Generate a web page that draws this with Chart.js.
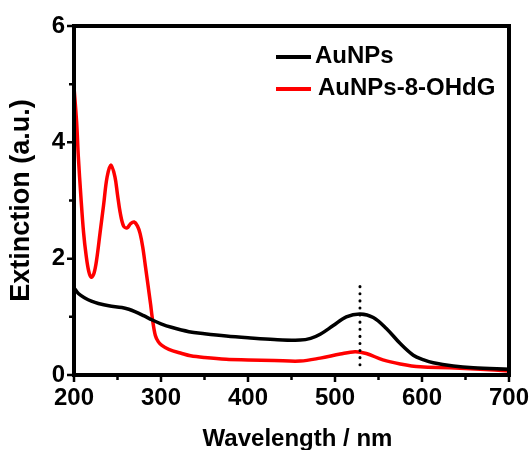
<!DOCTYPE html>
<html>
<head>
<meta charset="utf-8">
<script src="https://cdn.jsdelivr.net/npm/chart.js@4.4.0/dist/chart.umd.js"></script>
<style>
    html, body { margin: 0; padding: 0; background: #fff; }
    #wrap { width: 531px; height: 450px; position: relative; }
</style>
</head>
<body>
<div id="wrap"><canvas id="uv"></canvas></div>
<script>
// UV-vis extinction spectra
const waveAu = [200, 205, 213, 220, 228, 240, 255, 263, 270, 280, 290, 300, 312, 332, 350, 375, 400, 430, 460,
                472, 483, 498, 513, 529, 544, 559, 575, 590, 602, 613, 636, 659, 700];
const extAu = [1.50, 1.40, 1.32, 1.27, 1.23, 1.19, 1.16, 1.13, 1.09, 1.02, 0.945, 0.88, 0.82, 0.745, 0.71, 0.67, 0.64, 0.61, 0.60,
               0.63, 0.70, 0.85, 1.00, 1.05, 0.99, 0.80, 0.54, 0.34, 0.26, 0.21, 0.155, 0.125, 0.10];

const waveOH = [200, 203, 205, 208, 211, 214, 217, 220, 223, 226, 230, 234, 238, 242.5, 247, 250, 253, 257, 261, 265,
                269, 273, 276, 279, 282, 285, 288, 290, 293.5, 297, 301, 309, 324, 334, 350, 375, 400, 430, 460,
                483, 506, 523, 536, 555, 575, 598, 632, 667, 700];
const extOH = [4.95, 4.35, 3.75, 3.05, 2.45, 2.05, 1.78, 1.68, 1.75, 1.98, 2.45, 2.92, 3.40, 3.61, 3.41, 3.10, 2.80, 2.56, 2.53, 2.60,
               2.63, 2.56, 2.43, 2.20, 1.88, 1.55, 1.22, 0.98, 0.68, 0.57, 0.51, 0.44, 0.37, 0.33, 0.30, 0.27, 0.26, 0.25, 0.24,
               0.29, 0.36, 0.40, 0.37, 0.26, 0.19, 0.14, 0.125, 0.10, 0.07];

// dotted guide at the plasmon peak
const peakWave = [528.7, 528.7];
const peakExt = [1.52, 0.11];

const xTicks = [200, 300, 400, 500, 600, 700];
const yTicks = [0, 2, 4, 6];

const FONT = '"Liberation Sans", Arial, sans-serif';

const pts = (xs, ys) => xs.map((x, i) => ({ x, y: ys[i] }));

// frame, major/minor ticks, axis titles and the in-plot legend
const framePlugin = {
    id: 'frame',
    afterDraw(chart) {
        const { ctx, chartArea: a, scales: { x, y } } = chart;
        ctx.save();
        ctx.strokeStyle = '#000';
        ctx.lineWidth = 4;
        ctx.lineCap = 'square';
        ctx.strokeRect(a.left, a.top, a.right - a.left, a.bottom - a.top);

        ctx.lineWidth = 2.5;
        ctx.lineCap = 'butt';
        ctx.beginPath();
        xTicks.forEach((v, i) => {
            const px = x.getPixelForValue(v);
            ctx.moveTo(px, a.bottom); ctx.lineTo(px, a.bottom + 7);
            if (i < xTicks.length - 1) {
                const pm = x.getPixelForValue((v + xTicks[i + 1]) / 2);
                ctx.moveTo(pm, a.bottom); ctx.lineTo(pm, a.bottom + 5);
            }
        });
        yTicks.forEach((v, i) => {
            const py = y.getPixelForValue(v);
            ctx.moveTo(a.left, py); ctx.lineTo(a.left - 7, py);
            if (i < yTicks.length - 1) {
                const pm = y.getPixelForValue((v + yTicks[i + 1]) / 2);
                ctx.moveTo(a.left, pm); ctx.lineTo(a.left - 5, pm);
            }
        });
        ctx.stroke();

        ctx.fillStyle = '#000';
        ctx.font = `bold 24px ${FONT}`;
        ctx.textAlign = 'center';
        ctx.textBaseline = 'middle';
        ctx.fillText('Wavelength / nm', (a.left + a.right) / 2 + 6, 439);

        ctx.save();
        ctx.translate(22, (a.top + a.bottom) / 2);
        ctx.rotate(-Math.PI / 2);
        ctx.font = `bold 27px ${FONT}`;
        ctx.fillText('Extinction (a.u.)', 0, 0);
        ctx.restore();

        // legend
        const rows = chart.data.datasets.filter(d => d.label);
        ctx.textAlign = 'left';
        ctx.textBaseline = 'alphabetic';
        ctx.font = `bold 24px ${FONT}`;
        rows.forEach((d, i) => {
            const ly = 57 + i * 32;
            ctx.strokeStyle = d.borderColor;
            ctx.lineWidth = 4;
            ctx.beginPath();
            ctx.moveTo(276, ly); ctx.lineTo(311, ly);
            ctx.stroke();
            ctx.fillText(d.label, 315 + i * 3, ly + 6);
        });
        ctx.restore();
    }
};

const tickFont = { family: FONT, size: 24, weight: 'bold' };

new Chart(document.getElementById('uv'), {
    type: 'line',
    data: {
        datasets: [
            { label: 'AuNPs', data: pts(waveAu, extAu), borderColor: '#000', borderWidth: 3.5,
              pointRadius: 0, tension: 0.35, order: 1 },
            { label: 'AuNPs-8-OHdG', data: pts(waveOH, extOH), borderColor: '#f00', borderWidth: 3.5,
              pointRadius: 0, tension: 0.35, order: 2 },
            { label: '', data: pts(peakWave, peakExt), borderColor: '#000', borderWidth: 3,
              borderDash: [0.1, 7], borderCapStyle: 'round', pointRadius: 0, order: 0 },
        ],
    },
    options: {
        responsive: true, maintainAspectRatio: false, animation: false,
        layout: { padding: { top: 26, right: 22, left: 0, bottom: 0 } },
        plugins: { legend: { display: false }, tooltip: { enabled: false } },
        scales: {
            x: {
                type: 'linear', min: 200, max: 700,
                afterFit: (s) => { s.height = 75; s.paddingLeft = 0; s.paddingRight = 0; },
                grid: { display: false, drawTicks: false }, border: { display: false },
                ticks: { stepSize: 100, padding: 9, color: '#000', font: tickFont },
            },
            y: {
                min: 0, max: 6,
                afterFit: (s) => { s.width = 74; s.paddingTop = 0; s.paddingBottom = 0; },
                grid: { display: false, drawTicks: false }, border: { display: false },
                ticks: { stepSize: 2, padding: 9, color: '#000', font: tickFont },
            },
        },
    },
    plugins: [framePlugin],
});
</script>
</body>
</html>
